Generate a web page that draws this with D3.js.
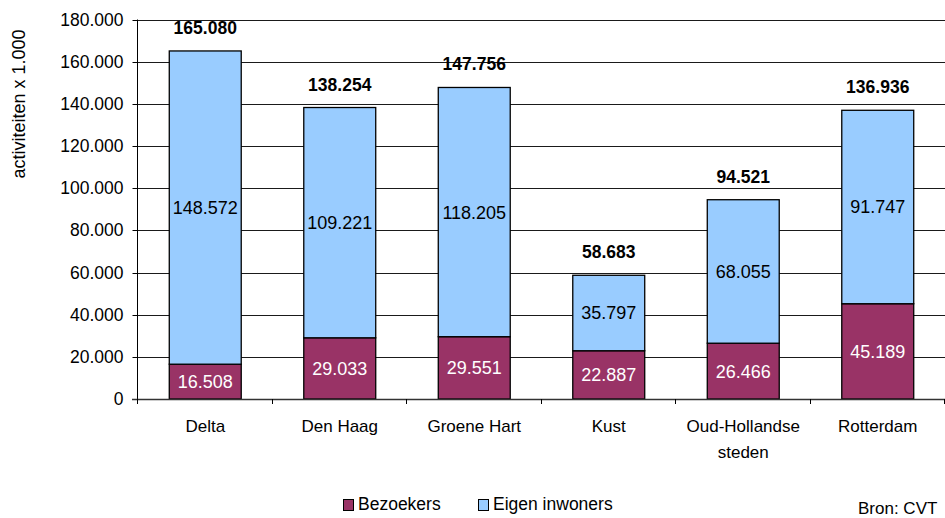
<!DOCTYPE html>
<html>
<head>
<meta charset="utf-8">
<script src="https://cdn.jsdelivr.net/npm/d3@7"></script>
<style>
  html, body { margin: 0; padding: 0; background: #fff; }
  svg { display: block; font-family: "Liberation Sans", Arial, sans-serif; }
</style>
</head>
<body>
<svg id="chart" width="945" height="518"></svg>
<script>
// Regio's en aantallen activiteiten (x 1.000)
const categories = ["Delta", "Den Haag", "Groene Hart", "Kust", "Oud-Hollandse steden", "Rotterdam"];
const categoryLines = [["Delta"], ["Den Haag"], ["Groene Hart"], ["Kust"], ["Oud-Hollandse", "steden"], ["Rotterdam"]];
const bezoekers = [16508, 29033, 29551, 22887, 26466, 45189];
const eigenInwoners = [148572, 109221, 118205, 35797, 68055, 91747];
const totalen = [165080, 138254, 147756, 58683, 94521, 136936];
const yTicks = [0, 20000, 40000, 60000, 80000, 100000, 120000, 140000, 160000, 180000];
const seriesNames = ["Bezoekers", "Eigen inwoners"];
const seriesColors = ["#993366", "#99CCFF"];

const nl = d3.formatLocale({ decimal: ",", thousands: ".", grouping: [3], currency: ["€", ""] });
const fmt = nl.format(",d");

const svg = d3.select("#chart");
const plotLeft = 138, plotRight = 945, plotTop = 19.5, plotBottom = 399;

const x = d3.scaleBand().domain(categories).range([plotLeft, plotRight])
  .paddingInner(0.465).paddingOuter(0.2325);
const y = d3.scaleLinear().domain([0, 180000]).range([plotBottom, plotTop]);

// horizontale rasterlijnen
svg.append("g").selectAll("line").data(yTicks.filter(d => d > 0)).join("line")
  .attr("x1", plotLeft).attr("x2", plotRight)
  .attr("y1", d => Math.round(y(d)) + 0.5).attr("y2", d => Math.round(y(d)) + 0.5)
  .attr("stroke", "#1a1a1a").attr("stroke-width", 1);

// y-as
const yAxis = svg.append("g").attr("transform", `translate(${plotLeft - 0.5},0)`)
  .call(d3.axisLeft(y).tickValues(yTicks).tickFormat(fmt).tickSize(5).tickPadding(9));
yAxis.select(".domain").attr("stroke", "#000").attr("d", `M0,${plotBottom}V${plotTop}`);
yAxis.selectAll(".tick line").attr("stroke", "#000");
yAxis.selectAll(".tick").attr("transform", d => `translate(0,${Math.round(y(d)) + 0.5})`);
yAxis.selectAll(".tick text").attr("font-size", 17.5).attr("fill", "#000")
  .attr("font-family", "'Liberation Sans', Arial, sans-serif");

// gestapelde staven
const stack = d3.stack().keys([0, 1]).value((d, k) => d[k]);
const rows = categories.map((c, i) => [bezoekers[i], eigenInwoners[i]]);
const layers = stack(rows);

const gBars = svg.append("g");
layers.forEach((layer, k) => {
  gBars.selectAll(null).data(layer).join("rect")
    .attr("x", (d, i) => x(categories[i]))
    .attr("width", x.bandwidth())
    .attr("y", d => y(d[1]))
    .attr("height", d => y(d[0]) - y(d[1]))
    .attr("fill", seriesColors[k])
    .attr("stroke", "#000").attr("stroke-width", 1.3);
});

// x-as
const xAxisG = svg.append("g");
xAxisG.append("line").attr("x1", plotLeft - 6).attr("x2", plotRight)
  .attr("y1", plotBottom + 0.5).attr("y2", plotBottom + 0.5).attr("stroke", "#333").attr("stroke-width", 1.5);
const step = x.step();
const bounds = d3.range(categories.length + 1).map(i => plotLeft + i * step);
xAxisG.selectAll("line.tk").data(bounds).join("line").attr("class", "tk")
  .attr("x1", d => Math.round(d) - 0.5).attr("x2", d => Math.round(d) - 0.5)
  .attr("y1", plotBottom).attr("y2", plotBottom + 5).attr("stroke", "#000");

// categorielabels
categoryLines.forEach((lines, i) => {
  const cx = x(categories[i]) + x.bandwidth() / 2;
  const t = svg.append("text").attr("text-anchor", "middle").attr("font-size", 17).attr("fill", "#000");
  lines.forEach((ln, j) => t.append("tspan").attr("x", cx).attr("y", 432 + j * 26).text(ln));
});

// waardelabels in de segmenten
layers.forEach((layer, k) => {
  svg.append("g").selectAll("text").data(layer).join("text")
    .attr("x", (d, i) => x(categories[i]) + x.bandwidth() / 2)
    .attr("y", d => (y(d[0]) + y(d[1])) / 2)
    .attr("dy", "0.36em")
    .attr("text-anchor", "middle").attr("font-size", 18)
    .attr("fill", k === 0 ? "#fff" : "#000")
    .text(d => fmt(d[1] - d[0]));
});

// totalen boven de staven
svg.append("g").selectAll("text").data(totalen).join("text")
  .attr("x", (d, i) => x(categories[i]) + x.bandwidth() / 2)
  .attr("y", d => y(d) - 17)
  .attr("text-anchor", "middle").attr("font-size", 17.5).attr("font-weight", "bold")
  .attr("fill", "#000").text(d => fmt(d));

// titel y-as
svg.append("text").attr("transform", "translate(25,104) rotate(-90)")
  .attr("text-anchor", "middle").attr("font-size", 18).attr("fill", "#000")
  .text("activiteiten x 1.000");

// legenda
const legendX = [343, 478];
seriesNames.forEach((name, k) => {
  svg.append("rect").attr("x", legendX[k] + 0.5).attr("y", 499.5).attr("width", 10).attr("height", 11)
    .attr("fill", seriesColors[k]).attr("stroke", "#000").attr("stroke-width", 1);
  svg.append("text").attr("x", legendX[k] + 15).attr("y", 510).attr("font-size", 17.5)
    .attr("fill", "#000").text(name);
});

// bron
svg.append("text").attr("x", 858).attr("y", 514).attr("font-size", 17).attr("fill", "#000").text("Bron: CVT");
</script>
</body>
</html>
